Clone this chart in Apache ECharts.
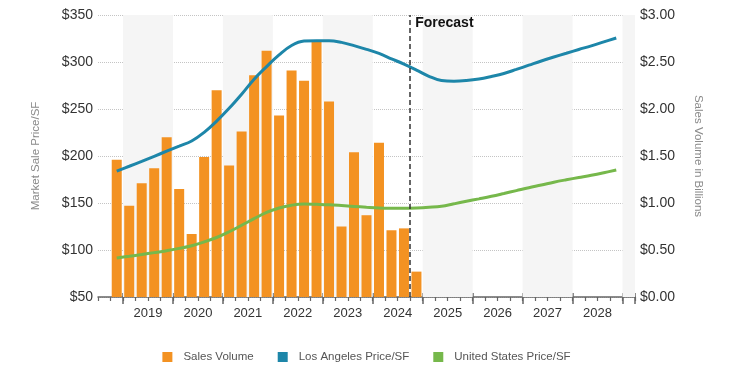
<!DOCTYPE html>
<html>
<head>
<meta charset="utf-8">
<script src="https://cdn.jsdelivr.net/npm/echarts@6/dist/echarts.min.js"></script>
<style>
html,body{margin:0;padding:0;background:#fff;}
#chart{width:733px;height:373px;}
</style>
</head>
<body>
<div id="chart"></div>
<script>
// Quarterly categories along the x axis
const quarters = [
  '2018 Q3','2018 Q4',
  '2019 Q1','2019 Q2','2019 Q3','2019 Q4',
  '2020 Q1','2020 Q2','2020 Q3','2020 Q4',
  '2021 Q1','2021 Q2','2021 Q3','2021 Q4',
  '2022 Q1','2022 Q2','2022 Q3','2022 Q4',
  '2023 Q1','2023 Q2','2023 Q3','2023 Q4',
  '2024 Q1','2024 Q2','2024 Q3','2024 Q4',
  '2025 Q1','2025 Q2','2025 Q3','2025 Q4',
  '2026 Q1','2026 Q2','2026 Q3','2026 Q4',
  '2027 Q1','2027 Q2','2027 Q3','2027 Q4',
  '2028 Q1','2028 Q2','2028 Q3','2028 Q4',
  '2029 Q1'
];

// Sales Volume in billions, 2018 Q4 – 2024 Q4
const salesStart = '2018 Q4';
const salesVolume = [
  1.46, 0.97, 1.21, 1.37, 1.70, 1.15, 0.67, 1.49, 2.20, 1.40,
  1.76, 2.36, 2.62, 1.93, 2.41, 2.30, 2.72, 2.08, 0.75, 1.54,
  0.87, 1.64, 0.71, 0.73, 0.27
];

// Market sale price per SF, 2018 Q4 – 2028 Q4
const priceStart = '2018 Q4';
const laPrice = [
  184.0, 189.1, 194.3, 199.7, 205.1, 210.5, 216.0, 225.2, 237.1, 250.7,
  265.7, 281.7, 295.1, 307.6, 317.6, 322.3, 322.7, 322.7, 320.9, 317.4,
  313.5, 309.1, 303.4, 297.7, 291.4, 284.8, 280.3, 279.6, 280.3, 281.9,
  284.6, 287.8, 292.1, 296.6, 301.1, 305.3, 309.3, 313.3, 317.2, 321.4,
  325.5
];
const usPrice = [
  91.5, 93.3, 95.2, 97.2, 99.3, 101.7, 104.6, 108.6, 113.3, 119.4,
  126.3, 133.3, 139.9, 144.7, 147.7, 149.0, 148.6, 148.1, 147.3, 146.4,
  145.4, 144.6, 144.4, 144.4, 144.7, 145.4, 146.5, 149.1, 151.8, 154.4,
  157.1, 160.1, 163.2, 166.3, 169.1, 172.1, 174.7, 177.1, 179.5, 182.2,
  185.1
];

// Axis ticks
const leftAxisTicks = [50, 100, 150, 200, 250, 300, 350];
const rightAxisTicks = [0, 0.5, 1, 1.5, 2, 2.5, 3];
const shadedYears = ['2019', '2021', '2023', '2025', '2027', '2029'];
const forecastStart = '2024 Q4';
const seriesNames = ['Sales Volume', 'Los Angeles Price/SF', 'United States Price/SF'];

const FONT = "'Liberation Sans', Arial, sans-serif";
const COLORS = { sales: '#F39222', la: '#1D86A9', us: '#76B84B' };

function pad(arr, startLabel) {
  const s = quarters.indexOf(startLabel);
  return quarters.map((q, i) => {
    const k = i - s;
    return (k >= 0 && k < arr.length) ? arr[k] : null;
  });
}

const nQ = quarters.length;
const bands = shadedYears.map(y => {
  const s = quarters.indexOf(y + ' Q1');
  return [{ xAxis: s }, { xAxis: Math.min(s + 4, nQ) }];
});
const fIdx = quarters.indexOf(forecastStart);

const chart = echarts.init(document.getElementById('chart'), null, { renderer: 'canvas' });

const catBase = {
  type: 'category',
  data: quarters,
  boundaryGap: true,
  position: 'bottom',
  gridIndex: 0
};

chart.setOption({
  animation: false,
  textStyle: { fontFamily: FONT },
  grid: { left: 98, right: 98, top: 15, bottom: 76, containLabel: false },
  legend: {
    data: seriesNames,
    icon: 'rect',
    itemWidth: 10,
    itemHeight: 10,
    itemGap: 24,
    top: 346,
    left: 'center',
    textStyle: { fontFamily: FONT, fontSize: 11.5, color: '#555', padding: [0, 0, 0, 6] }
  },
  xAxis: [
    Object.assign({}, catBase, {
      axisLine: { show: true, lineStyle: { color: '#666', width: 1.5 } },
      axisTick: { show: true, interval: 0, length: 4, lineStyle: { color: '#666', width: 1.2 } },
      axisLabel: {
        show: true,
        interval: (i) => i > 0 && i % 4 === 0,
        formatter: (v) => v.slice(0, 4),
        padding: [0, 12.5, 0, 0],
        margin: 10,
        fontSize: 13,
        color: '#333',
        fontFamily: FONT
      },
      splitLine: { show: false }
    }),
    Object.assign({}, catBase, {
      axisLine: { show: false },
      axisTick: { show: true, interval: (i) => i % 4 === 2, length: 7, lineStyle: { color: '#666', width: 1.5 } },
      axisLabel: { show: false },
      splitLine: { show: false }
    }),
    {
      type: 'value', min: 0, max: nQ, show: false, gridIndex: 0
    },
    Object.assign({}, catBase, {
      axisLine: { show: false },
      axisTick: { show: true, inside: true, interval: (i) => i % 4 === 2, length: 4, lineStyle: { color: '#666', width: 1.5 } },
      axisLabel: { show: false },
      splitLine: { show: false }
    })
  ],
  yAxis: [
    {
      type: 'value',
      position: 'left',
      min: leftAxisTicks[0],
      max: leftAxisTicks[leftAxisTicks.length - 1],
      interval: leftAxisTicks[1] - leftAxisTicks[0],
      name: 'Market Sale Price/SF',
      nameLocation: 'middle',
      nameGap: 56,
      nameTextStyle: { fontSize: 11.5, color: '#8a8a8a', fontFamily: FONT },
      axisLine: { show: false },
      axisTick: { show: false },
      axisLabel: { formatter: (v) => '$' + v, fontSize: 14, color: '#333', margin: 5, fontFamily: FONT },
      splitLine: { show: true, lineStyle: { type: 'dotted', color: '#c4c4c4', width: 1 } }
    },
    {
      type: 'value',
      position: 'right',
      min: rightAxisTicks[0],
      max: rightAxisTicks[rightAxisTicks.length - 1],
      interval: rightAxisTicks[1] - rightAxisTicks[0],
      name: 'Sales Volume in Billions',
      nameLocation: 'middle',
      nameRotate: -90,
      nameGap: 57,
      nameTextStyle: { fontSize: 11.5, color: '#8a8a8a', fontFamily: FONT },
      axisLine: { show: false },
      axisTick: { show: false },
      axisLabel: { formatter: (v) => '$' + v.toFixed(2), fontSize: 14, color: '#333', margin: 5, fontFamily: FONT },
      splitLine: { show: false }
    }
  ],
  series: [
    {
      name: 'bands',
      type: 'line',
      xAxisIndex: 2,
      yAxisIndex: 0,
      data: [],
      z: -1,
      silent: true,
      markArea: {
        silent: true,
        label: { show: false },
        itemStyle: { color: '#f5f5f5' },
        data: bands
      }
    },
    {
      name: seriesNames[0],
      type: 'bar',
      xAxisIndex: 0,
      yAxisIndex: 1,
      barWidth: 10,
      data: pad(salesVolume, salesStart),
      itemStyle: { color: COLORS.sales },
      z: 2
    },
    {
      name: 'forecast',
      type: 'line',
      xAxisIndex: 2,
      yAxisIndex: 0,
      data: [],
      z: 6,
      silent: true,
      markLine: {
        silent: true,
        symbol: ['none', 'none'],
        label: { show: false },
        lineStyle: { color: '#333', width: 1.5, type: [5, 3] },
        data: [{ xAxis: fIdx }]
      },
      markArea: {
        silent: true,
        itemStyle: { color: 'rgba(0,0,0,0)' },
        data: [[
          {
            name: 'Forecast', xAxis: fIdx,
            label: {
              show: true, position: 'insideTopLeft', offset: [0, -4],
              fontSize: 14, fontWeight: 'bold', color: '#111', fontFamily: FONT
            }
          },
          { xAxis: nQ }
        ]]
      }
    },
    {
      name: seriesNames[1],
      type: 'line',
      xAxisIndex: 0,
      yAxisIndex: 0,
      smooth: 0.4,
      showSymbol: false,
      data: pad(laPrice, priceStart),
      lineStyle: { color: COLORS.la, width: 3 },
      itemStyle: { color: COLORS.la },
      z: 4
    },
    {
      name: seriesNames[2],
      type: 'line',
      xAxisIndex: 0,
      yAxisIndex: 0,
      smooth: 0.4,
      showSymbol: false,
      data: pad(usPrice, priceStart),
      lineStyle: { color: COLORS.us, width: 3 },
      itemStyle: { color: COLORS.us },
      z: 4
    }
  ]
});
</script>
</body>
</html>
